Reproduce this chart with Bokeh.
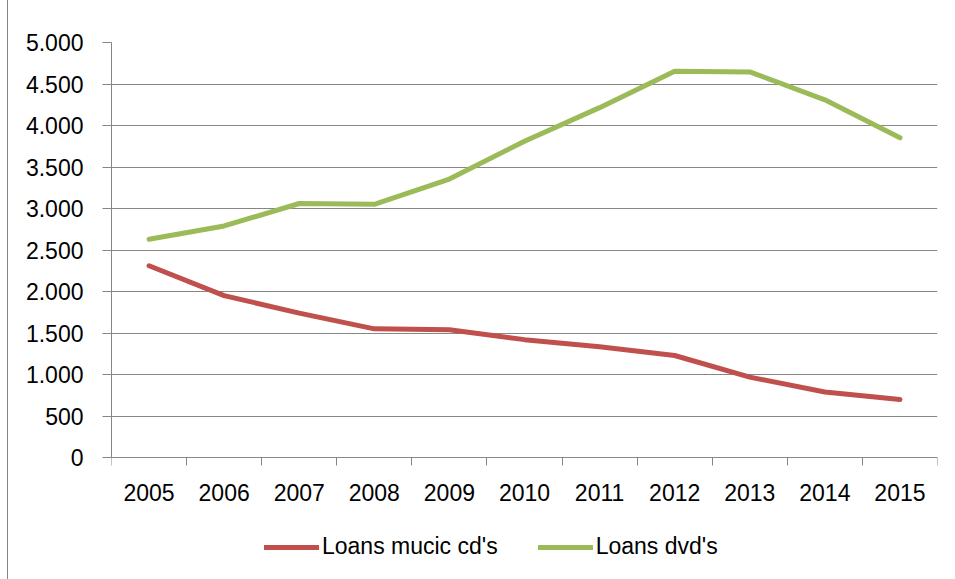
from bokeh.plotting import figure
from bokeh.models import Range1d, LinearAxis, FixedTicker, Legend, LegendItem
from bokeh.embed import file_html
from bokeh.resources import INLINE

years = ["2005", "2006", "2007", "2008", "2009", "2010", "2011", "2012", "2013", "2014", "2015"]
loans_cds = [2310, 1950, 1740, 1550, 1540, 1420, 1335, 1229, 968, 790, 699]
loans_dvds = [2630, 2790, 3060, 3050, 3355, 3810, 4215, 4654, 4646, 4309, 3852]
y_ticks = [0, 500, 1000, 1500, 2000, 2500, 3000, 3500, 4000, 4500, 5000]
y_labels = ["0", "500", "1.000", "1.500", "2.000", "2.500", "3.000", "3.500", "4.000", "4.500", "5.000"]
series_names = ["Loans mucic cd's", "Loans dvd's"]

FONT = "Liberation Sans"
GRAY = "#868686"
RED = "#C0504D"
GREEN = "#9BBB59"

n = len(years)
xpos = [i + 0.5 for i in range(n)]  # category centres

# frame spans from y=42 to the bottom of the page; value 0 sits at y=457
H = 579
TOP, ZERO_Y = 42, 457
y_max = 5000
y_min = y_max - (H - TOP) / (ZERO_Y - TOP) * y_max

p = figure(width=947, height=H, x_range=Range1d(0, n), y_range=Range1d(y_min, y_max),
           output_backend="svg", toolbar_location=None,
           x_axis_location=None, y_axis_location=None,
           min_border_left=103, min_border_right=18, min_border_top=TOP, min_border_bottom=0)
p.styles = {"margin-left": "7px", "border-left": "1px solid #868686"}
p.outline_line_color = None
p.background_fill_color = "white"
p.border_fill_color = "white"

# y axis
yax = LinearAxis(ticker=FixedTicker(ticks=y_ticks), bounds=(0, y_max))
yax.major_label_overrides = {t: l for t, l in zip(y_ticks, y_labels)}
yax.axis_line_color = GRAY
yax.major_tick_line_color = GRAY
yax.major_tick_out = 9
yax.major_tick_in = 0
yax.minor_tick_line_color = None
yax.major_label_standoff = 19
yax.major_label_text_font = FONT
yax.major_label_text_font_size = "23px"
yax.major_label_text_color = "black"
p.add_layout(yax, "left")

# x tick marks at category boundaries, fixed at value 0
xt = LinearAxis(ticker=FixedTicker(ticks=list(range(n + 1))), fixed_location=0)
xt.major_label_overrides = {i: "" for i in range(n + 1)}
xt.axis_line_color = GRAY
xt.major_tick_line_color = GRAY
xt.major_tick_out = 8
xt.major_tick_in = 0
xt.minor_tick_line_color = None
xt.major_label_standoff = 0
xt.major_label_text_font_size = "1px"
p.add_layout(xt, "below")

# category labels at centres
xc = LinearAxis(ticker=FixedTicker(ticks=xpos), fixed_location=0)
xc.major_label_overrides = {x: y for x, y in zip(xpos, years)}
xc.axis_line_color = None
xc.major_tick_line_color = None
xc.minor_tick_line_color = None
xc.major_label_standoff = 20
xc.major_label_text_font = FONT
xc.major_label_text_font_size = "23px"
xc.major_label_text_color = "black"
p.add_layout(xc, "below")

p.xgrid.visible = False
p.ygrid.ticker = FixedTicker(ticks=y_ticks)
p.ygrid.grid_line_color = GRAY
p.ygrid.grid_line_width = 1

r1 = p.line(xpos, loans_cds, line_color=RED, line_width=5, line_cap="round", line_join="round")
r2 = p.line(xpos, loans_dvds, line_color=GREEN, line_width=5, line_cap="round", line_join="round")

legend = Legend(items=[LegendItem(label=series_names[0], renderers=[r1]),
                       LegendItem(label=series_names[1], renderers=[r2])],
                orientation="horizontal", location=(153, 19))
legend.border_line_color = None
legend.background_fill_alpha = 0
legend.padding = 0
legend.margin = 0
legend.spacing = 40
legend.glyph_width = 55
legend.glyph_height = 22
legend.label_standoff = 3
legend.label_text_font = FONT
legend.label_text_font_size = "23px"
legend.label_text_color = "black"
p.add_layout(legend, "center")

open("out.html", "w").write(file_html(p, INLINE))
